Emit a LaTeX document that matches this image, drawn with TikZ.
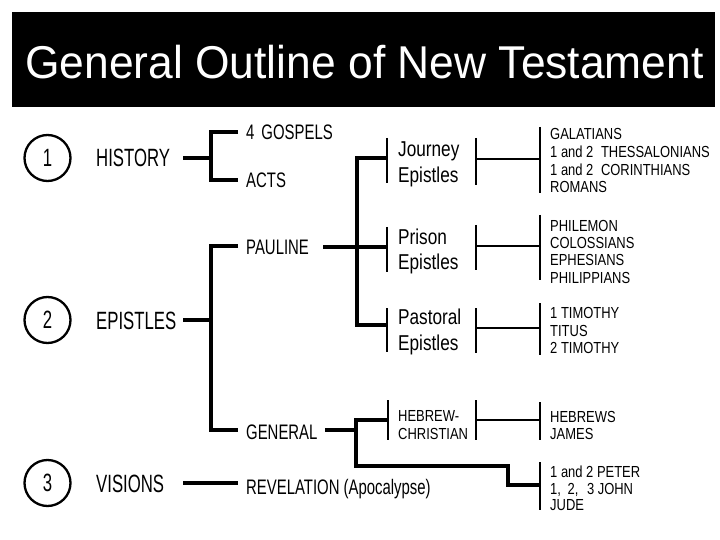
\documentclass[tikz,border=0pt]{standalone}
\usepackage{fontspec}
\setmainfont{Liberation Sans}
\newfontfamily\fT[FakeStretch=0.965]{Liberation Sans}
\newfontfamily\fA[FakeStretch=0.67]{Liberation Sans}
\newfontfamily\fB[FakeStretch=0.71]{Liberation Sans}
\newfontfamily\fC[FakeStretch=0.8]{Liberation Sans}
\newfontfamily\fD[FakeStretch=0.81]{Liberation Sans}
\begin{document}
\begin{tikzpicture}[x=1pt,y=-1pt,
  lvA/.style={anchor=base west,inner sep=0pt,font=\fA\fontsize{25}{30}\selectfont},
  lvB/.style={anchor=base west,inner sep=0pt,font=\fB\fontsize{21}{25}\selectfont},
  lvC/.style={anchor=base west,inner sep=0pt,font=\fC\fontsize{21.5}{25}\selectfont},
  book/.style={anchor=base west,inner sep=0pt,font=\fD\fontsize{16}{19}\selectfont},
  num/.style={circle,draw,line width=2.3pt,minimum size=46pt,inner sep=0pt,font=\fA\fontsize{25}{30}\selectfont},
  ln/.style={line width=3.2pt},
  tk/.style={line width=2.7pt},
  thin/.style={line width=2.4pt}]
\useasboundingbox (0,0) rectangle (720,540);
\fill[black] (12,12) rectangle (715,107);
\node[anchor=base west,inner sep=0pt,text=white,font=\fT\fontsize{46}{50}\selectfont] (title) at (25,79) {General Outline of New Testament};

% circles
\node[num] (c1) at (47.5,158) {1};
\node[num] (c2) at (47.5,320) {2};
\node[num] (c3) at (47.5,483) {3};

% level 1
\node[lvA] (hist) at (96,167) {HISTORY};
\node[lvA] (epis) at (96,329) {EPISTLES};
\node[lvA] (vis) at (96,492) {VISIONS};

% level 2
\node[lvB] (gosp) at (246,139.5) {4\hspace{7pt}GOSPELS};
\node[lvB] (acts) at (246,188) {ACTS};
\node[lvB] (paul) at (246,254.5) {PAULINE};
\node[lvB] (gen) at (246,439.5) {GENERAL};
\node[lvB] (rev) at (246,494) {REVELATION (Apocalypse)};

% level 3
\node[lvC] (jo1) at (398,156.5) {Journey};
\node[lvC] (jo2) at (398,182.5) {Epistles};
\node[lvC] (pr1) at (398,244.5) {Prison};
\node[lvC] (pr2) at (398,269.5) {Epistles};
\node[lvC] (pa1) at (398,324.5) {Pastoral};
\node[lvC] (pa2) at (398,350.5) {Epistles};
\node[book] (hc1) at (398,421) {HEBREW-};
\node[book] (hc2) at (398,439) {CHRISTIAN};

% books
\node[book] (b1) at (550,140) {GALATIANS};
\node[book] (b2) at (550,158) {1 and 2\hspace{4pt} THESSALONIANS};
\node[book] (b3) at (550,175.5) {1 and 2\hspace{4pt} CORINTHIANS};
\node[book] (b4) at (550,193) {ROMANS};
\node[book] (b5) at (550,231) {PHILEMON};
\node[book] (b6) at (550,248) {COLOSSIANS};
\node[book] (b7) at (550,265) {EPHESIANS};
\node[book] (b8) at (550,283) {PHILIPPIANS};
\node[book] (b9) at (550,318) {1 TIMOTHY};
\node[book] (b10) at (550,336) {TITUS};
\node[book] (b11) at (550,353) {2 TIMOTHY};
\node[book] (b12) at (550,422) {HEBREWS};
\node[book] (b13) at (550,439) {JAMES};
\node[book] (b14) at (550,477) {1 and 2 PETER};
\node[book] (b15) at (550,494) {1,\hspace{3pt} 2,\hspace{5pt} 3 JOHN};
\node[book] (b16) at (550,510) {JUDE};

% history bracket
\draw[ln] (183,158) -- (211,158);
\draw[ln] (238,132) -- (211,132) -- (211,180) -- (238,180);
% epistles bracket
\draw[ln] (183,320) -- (211,320);
\draw[ln] (238,246) -- (211,246) -- (211,430) -- (238,430);
% visions
\draw[ln] (183,483) -- (238,483);
% pauline
\draw[ln] (323,247) -- (387,247);
\draw[ln] (387,158) -- (357,158) -- (357,325) -- (387,325);
% ticks left of level 3
\draw[tk] (387,138) -- (387,183);
\draw[tk] (387,227) -- (387,272);
\draw[tk] (387,308) -- (387,352);
\draw[tk] (388,400) -- (388,440);
% ticks right of level 3
\draw[tk] (476,138) -- (476,185);
\draw[tk] (476,225) -- (476,270);
\draw[tk] (476,308) -- (476,353);
\draw[tk] (476,400) -- (476,440);
% connectors to book lists
\draw[thin] (476,159) -- (540,159);
\draw[thin] (476,246) -- (540,246);
\draw[thin] (476,328) -- (540,328);
\draw[thin] (476,420) -- (540,420);
% book ticks
\draw[tk] (540,127) -- (540,193);
\draw[tk] (540,215) -- (540,280);
\draw[tk] (540,303) -- (540,355);
\draw[tk] (540,402) -- (540,440);
\draw[tk] (540,462) -- (540,510);
% general bracket
\draw[ln] (325,430) -- (356,430);
\draw[ln] (388,420) -- (356,420) -- (356,466) -- (508,466) -- (508,485) -- (540,485);
\end{tikzpicture}
\end{document}
